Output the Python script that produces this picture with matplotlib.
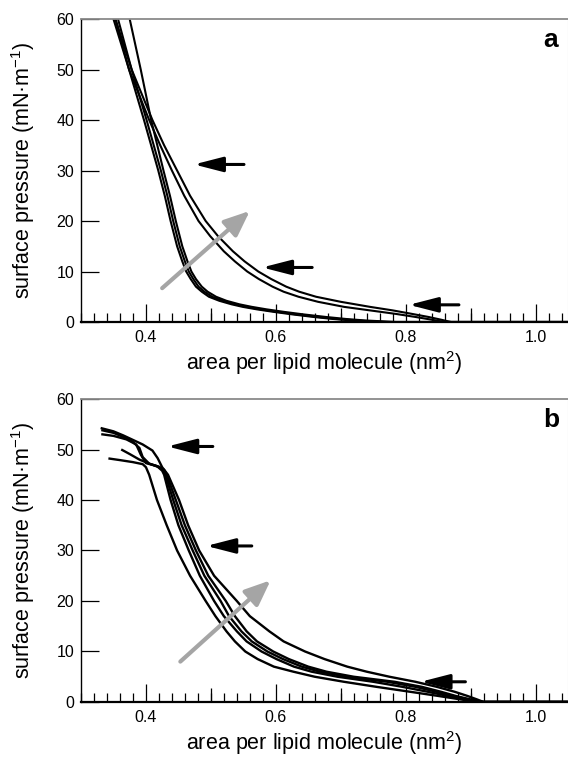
import matplotlib
matplotlib.use('Agg')
import matplotlib.pyplot as plt
from matplotlib.ticker import MultipleLocator, FixedLocator

plt.rcParams['font.family'] = ['Liberation Sans', 'DejaVu Sans']
plt.rcParams['mathtext.fontset'] = 'custom'
plt.rcParams['mathtext.rm'] = 'Liberation Sans'
plt.rcParams['mathtext.it'] = 'Liberation Sans:italic'
plt.rcParams['mathtext.bf'] = 'Liberation Sans:bold'

# ---- panel a : isotherms ----
# the three steep curves share one pressure grid
a_steep_y = [60, 50, 40, 30, 25, 20, 15, 12, 10, 8.5, 7, 6, 5, 4.2, 3.5, 3, 2.5, 2, 1.5, 1, 0.6, 0.3, 0, 0]
a_steep1_x = [0.375, 0.392, 0.408, 0.427, 0.437, 0.446, 0.456, 0.464, 0.470, 0.477, 0.486, 0.495, 0.508, 0.524, 0.544, 0.563, 0.586, 0.613, 0.643, 0.677, 0.708, 0.738, 0.785, 1.05]
a_steep2_x = [0.357, 0.378, 0.401, 0.423, 0.433, 0.442, 0.452, 0.460, 0.466, 0.473, 0.481, 0.490, 0.502, 0.518, 0.537, 0.555, 0.577, 0.603, 0.632, 0.665, 0.695, 0.725, 0.770, 1.05]
a_steep3_x = [0.353, 0.374, 0.397, 0.419, 0.429, 0.438, 0.448, 0.456, 0.462, 0.469, 0.477, 0.486, 0.497, 0.513, 0.532, 0.549, 0.571, 0.597, 0.626, 0.658, 0.688, 0.718, 0.760, 1.05]

# the two shallow curves
a_shallow_y = [60, 50, 40, 35, 30, 25, 20, 17, 14, 12, 10, 8.5, 7, 6, 5, 4, 3, 2.3, 1.6, 1, 0.5, 0, 0]
a_shallow1_x = [0.350, 0.374, 0.405, 0.422, 0.440, 0.459, 0.481, 0.499, 0.520, 0.537, 0.556, 0.574, 0.595, 0.612, 0.635, 0.665, 0.705, 0.745, 0.785, 0.815, 0.838, 0.860, 1.05]
a_shallow2_x = [0.353, 0.378, 0.410, 0.428, 0.448, 0.468, 0.492, 0.511, 0.534, 0.552, 0.573, 0.593, 0.616, 0.636, 0.662, 0.700, 0.745, 0.780, 0.810, 0.835, 0.853, 0.870, 1.05]

# arrows in panel a: (pressure, tip area, tail area)
a_arrow_y = [31.2, 10.8, 3.4]
a_arrow_tip = [0.474, 0.579, 0.805]
a_arrow_tail = [0.551, 0.656, 0.882]
a_gray_from = (0.425, 6.7)
a_gray_to = (0.560, 22.0)

# ---- panel b ----
# plateau part (collapse region) of each curve
b_top_L_x = [0.344, 0.360, 0.380, 0.395, 0.400]
b_top_L_y = [48.2, 47.9, 47.5, 47.1, 46.5]
b_top_M1_x = [0.3635, 0.375, 0.390, 0.405, 0.418, 0.425]
b_top_M1_y = [49.9, 49.1, 48.0, 47.2, 46.6, 45.8]
b_top_M2_x = [0.333, 0.350, 0.370, 0.385, 0.392, 0.400, 0.415, 0.425]
b_top_M2_y = [53.0, 52.7, 52.0, 51.0, 49.0, 47.3, 46.8, 46.2]
b_top_M3_x = [0.333, 0.350, 0.365, 0.380, 0.390, 0.395, 0.405, 0.420, 0.428]
b_top_M3_y = [53.8, 53.3, 52.5, 51.5, 50.3, 48.5, 47.2, 46.6, 46.0]
b_top_S_x = [0.332, 0.350, 0.365, 0.380, 0.395, 0.410, 0.418, 0.425]
b_top_S_y = [54.2, 53.6, 52.8, 51.9, 51.0, 49.8, 48.3, 46.5]

# descending part, common pressure grid
b_low_y = [45, 40, 35, 30, 25, 20, 17, 14, 12, 10, 8.5, 7, 6, 5, 4, 3, 2, 1.2, 0.5, 0, 0]
b_low_L_x = [0.405, 0.417, 0.432, 0.448, 0.468, 0.492, 0.507, 0.524, 0.537, 0.553, 0.572, 0.597, 0.627, 0.660, 0.705, 0.755, 0.808, 0.850, 0.885, 0.910, 1.05]
b_low_M1_x = [0.428, 0.438, 0.450, 0.466, 0.483, 0.505, 0.520, 0.540, 0.555, 0.578, 0.601, 0.628, 0.655, 0.695, 0.750, 0.795, 0.835, 0.865, 0.893, 0.915, 1.05]
b_low_M2_x = [0.430, 0.442, 0.455, 0.472, 0.490, 0.515, 0.528, 0.547, 0.563, 0.587, 0.611, 0.640, 0.668, 0.710, 0.772, 0.815, 0.848, 0.872, 0.897, 0.915, 1.05]
b_low_M3_x = [0.432, 0.446, 0.460, 0.477, 0.496, 0.523, 0.537, 0.555, 0.571, 0.596, 0.620, 0.650, 0.678, 0.720, 0.783, 0.825, 0.855, 0.877, 0.900, 0.920, 1.05]
b_low_S_x = [0.434, 0.451, 0.465, 0.482, 0.505, 0.540, 0.560, 0.590, 0.612, 0.645, 0.675, 0.710, 0.740, 0.775, 0.815, 0.848, 0.876, 0.895, 0.910, 0.920, 1.05]

b_arrow_y = [50.6, 30.9, 4.0]
b_arrow_tip = [0.433, 0.493, 0.823]
b_arrow_tail = [0.503, 0.563, 0.892]
b_gray_from = (0.453, 8.0)
b_gray_to = (0.592, 24.1)

x_ticks = [0.4, 0.6, 0.8, 1.0]
x_mid_ticks = [0.5, 0.7, 0.9]
y_ticks = [0, 10, 20, 30, 40, 50, 60]


def style_axes(ax, letter):
    ax.set_xlim(0.3, 1.05)
    ax.set_ylim(0, 60)
    ax.xaxis.set_major_locator(FixedLocator(x_ticks))
    ax.xaxis.set_minor_locator(MultipleLocator(0.02))
    ax.set_xticklabels(['0.4', '0.6', '0.8', '1.0'])
    ax.set_yticks(y_ticks)
    ax.tick_params(axis='x', which='major', direction='in', length=13, width=0.9, pad=6, labelsize=11.5)
    ax.tick_params(axis='x', which='minor', direction='in', length=6.5, width=0.9)
    ax.tick_params(axis='y', which='major', direction='in', length=13, width=0.9, pad=5, labelsize=11.5)
    sec = ax.secondary_xaxis('bottom')
    sec.set_xticks(x_mid_ticks)
    sec.tick_params(direction='in', length=10, width=0.9, labelbottom=False)
    sec.spines['bottom'].set_visible(False)
    ax.spines['left'].set_linewidth(1.0)
    ax.spines['bottom'].set_linewidth(1.6)
    ax.spines['top'].set_color('#8a8a8a')
    ax.spines['top'].set_linewidth(1.3)
    ax.spines['right'].set_color('#cccccc')
    ax.set_xlabel('area per lipid molecule (nm$^{2}$)', fontsize=15.5, labelpad=3)
    ax.set_ylabel('surface pressure (mN\u00b7m$^{-1}$)', fontsize=15.5)
    ax.yaxis.set_label_coords(-0.09, 0.5)
    ax.text(0.965, 0.93, letter, transform=ax.transAxes, fontsize=19,
            fontweight='bold', ha='center', va='center')


def black_arrow(ax, y, tip, tail):
    ax.annotate('', xy=(tip, y), xytext=(tail, y),
                arrowprops=dict(arrowstyle='-|>,head_length=1.75,head_width=0.45',
                                mutation_scale=10, lw=2.2, color='black',
                                shrinkA=0, shrinkB=0))


def gray_arrow(ax, start, end):
    ax.annotate('', xy=end, xytext=start,
                arrowprops=dict(arrowstyle='-|>,head_length=1.55,head_width=0.65',
                                mutation_scale=10, lw=3, color='#a5a5a5',
                                shrinkA=0, shrinkB=0))


fig = plt.figure(figsize=(5.68, 7.58), dpi=100)
ax_a = fig.add_axes([0.1426, 0.5752, 0.8574, 0.3997])
ax_b = fig.add_axes([0.1426, 0.0739, 0.8574, 0.3997])

for xs in [a_steep1_x, a_steep2_x, a_steep3_x]:
    ax_a.plot(xs, a_steep_y, color='black', lw=1.5)
for xs in [a_shallow1_x, a_shallow2_x]:
    ax_a.plot(xs, a_shallow_y, color='black', lw=1.5)
gray_arrow(ax_a, a_gray_from, a_gray_to)
for y, tip, tail in zip(a_arrow_y, a_arrow_tip, a_arrow_tail):
    black_arrow(ax_a, y, tip, tail)
style_axes(ax_a, 'a')

tops = [(b_top_L_x, b_top_L_y), (b_top_M1_x, b_top_M1_y), (b_top_M2_x, b_top_M2_y),
        (b_top_M3_x, b_top_M3_y), (b_top_S_x, b_top_S_y)]
lows = [b_low_L_x, b_low_M1_x, b_low_M2_x, b_low_M3_x, b_low_S_x]
for (tx, ty), lx in zip(tops, lows):
    ax_b.plot(tx + lx, ty + b_low_y, color='black', lw=1.7)
gray_arrow(ax_b, b_gray_from, b_gray_to)
for y, tip, tail in zip(b_arrow_y, b_arrow_tip, b_arrow_tail):
    black_arrow(ax_b, y, tip, tail)
style_axes(ax_b, 'b')

fig.savefig('out.png', dpi=100)
